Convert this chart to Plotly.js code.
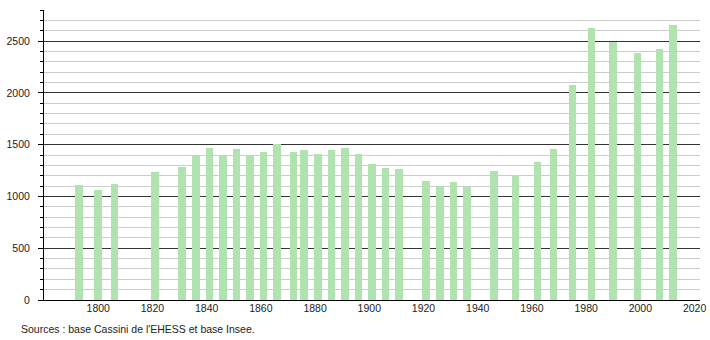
<!DOCTYPE html>
<html>
<head>
<meta charset="utf-8">
<script src="https://cdn.plot.ly/plotly-3.0.1.min.js"></script>
<style>html,body{margin:0;padding:0;background:#fff;}#chart{width:710px;height:340px;}</style>
</head>
<body>
<div id="chart"></div>
<script>
var years = [1793,1800,1806,1821,1831,1836,1841,1846,1851,1856,1861,1866,1872,1876,1881,1886,1891,1896,1901,1906,1911,1921,1926,1931,1936,1946,1954,1962,1968,1975,1982,1990,1999,2007,2012];
var population = [1107,1061,1119,1233,1284,1388,1468,1404,1458,1404,1430,1503,1430,1449,1408,1446,1465,1408,1313,1272,1262,1148,1097,1136,1090,1245,1206,1330,1458,2078,2626,2490,2388,2420,2655];
var xTicks = [1800,1820,1840,1860,1880,1900,1920,1940,1960,1980,2000,2020];
var yTicks = [0,500,1000,1500,2000,2500];
var sourceText = "Sources : base Cassini de l'EHESS et base Insee.";

var font = {family: '"Liberation Sans", Arial, sans-serif', size: 10.5, color: '#222'};

var trace = {
  type: 'bar',
  x: years,
  y: population,
  width: 2.8,
  marker: {color: 'rgb(176,227,176)', line: {width: 0}},
  hoverinfo: 'x+y'
};

var layout = {
  width: 710, height: 340,
  margin: {l: 44, r: 10, t: 10, b: 40, pad: 0},
  paper_bgcolor: '#fff', plot_bgcolor: '#fff',
  showlegend: false,
  font: font,
  bargap: 0,
  xaxis: {
    range: [1780, 2022],
    tickmode: 'array', tickvals: xTicks, ticktext: xTicks.map(String),
    showgrid: false, zeroline: false,
    showline: true, linecolor: '#000', linewidth: 1,
    ticks: '', ticklabelstandoff: -2,
    tickfont: font, fixedrange: true
  },
  yaxis: {
    range: [0, 2800],
    tickmode: 'array', tickvals: yTicks, ticktext: yTicks.map(String),
    showgrid: true, gridcolor: '#333', gridwidth: 1,
    zeroline: false,
    showline: true, linecolor: '#000', linewidth: 1,
    ticks: 'outside', ticklen: 5, tickcolor: '#000', tickwidth: 1,
    ticklabelstandoff: 6,
    minor: {dtick: 100, tick0: 0, showgrid: true, gridcolor: '#cccccc', gridwidth: 1, ticks: 'outside', ticklen: 3, tickcolor: '#000'},
    tickfont: font, fixedrange: true
  },
  annotations: [{
    text: sourceText,
    xref: 'paper', yref: 'paper',
    x: -25/656, y: -29/290,
    xanchor: 'left', yanchor: 'middle',
    showarrow: false,
    font: {family: '"Liberation Sans", Arial, sans-serif', size: 10.5, color: '#222'}
  }]
};

Plotly.newPlot('chart', [trace], layout, {staticPlot: true, displayModeBar: false});
</script>
</body>
</html>
